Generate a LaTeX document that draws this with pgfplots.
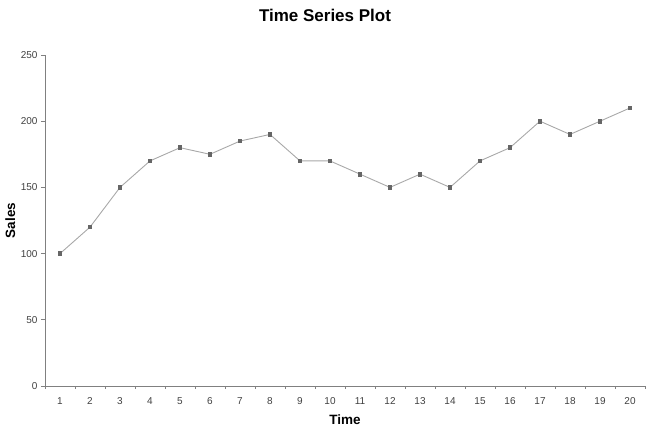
\documentclass[border=0pt]{standalone}
\usepackage{fontspec}
\setmainfont{Liberation Sans}
\usepackage{pgfplots}
\pgfplotsset{compat=1.18}
\definecolor{axisgray}{HTML}{808080}
\definecolor{linegray}{HTML}{A8A8A8}
\definecolor{markgray}{HTML}{666666}
\definecolor{textgray}{HTML}{404040}
\begin{document}
\begin{tikzpicture}
  \path[use as bounding box] (-45pt,-44pt) rectangle (605pt,386pt);
  \begin{axis}[
    at={(0pt,0pt)}, anchor=south west,
    scale only axis,
    width=600pt, height=331pt,
    xmin=0.5, xmax=20.5,
    ymin=0, ymax=250,
    axis lines*=left,
    axis line style={axisgray, line width=0.8pt},
    xtick={1,...,20},
    minor xtick={0.5,1.5,...,20.5},
    ytick={0,50,...,250},
    major x tick style={draw=none},
    minor tick length=3pt,
    major tick length=4pt,
    tick style={axisgray, line width=0.8pt},
    tick align=outside,
    ticklabel style={font=\fontsize{10}{12}\selectfont, text=textgray},
    /pgf/number format/assume math mode=true,
    xticklabel style={yshift=-4pt},
    xlabel={Time},
    ylabel={Sales},
    label style={font=\bfseries\fontsize{13.5}{16}\selectfont, text=black},
    xlabel style={at={(axis description cs:0.5,-0.103)}, anchor=center},
    ylabel style={at={(axis description cs:-0.058,0.5)}, anchor=center},
  ]
    \addplot[linegray, line width=0.9pt, mark=square*, mark size=1.8pt,
      mark options={markgray, fill=markgray}] coordinates {
      (1,100) (2,120) (3,150) (4,170) (5,180)
      (6,175) (7,185) (8,190) (9,170) (10,170)
      (11,160) (12,150) (13,160) (14,150) (15,170)
      (16,180) (17,200) (18,190) (19,200) (20,210)
    };
  \end{axis}
  \node[font=\bfseries\fontsize{17}{20}\selectfont] at (280pt,371pt) {Time Series Plot};
\end{tikzpicture}
\end{document}
